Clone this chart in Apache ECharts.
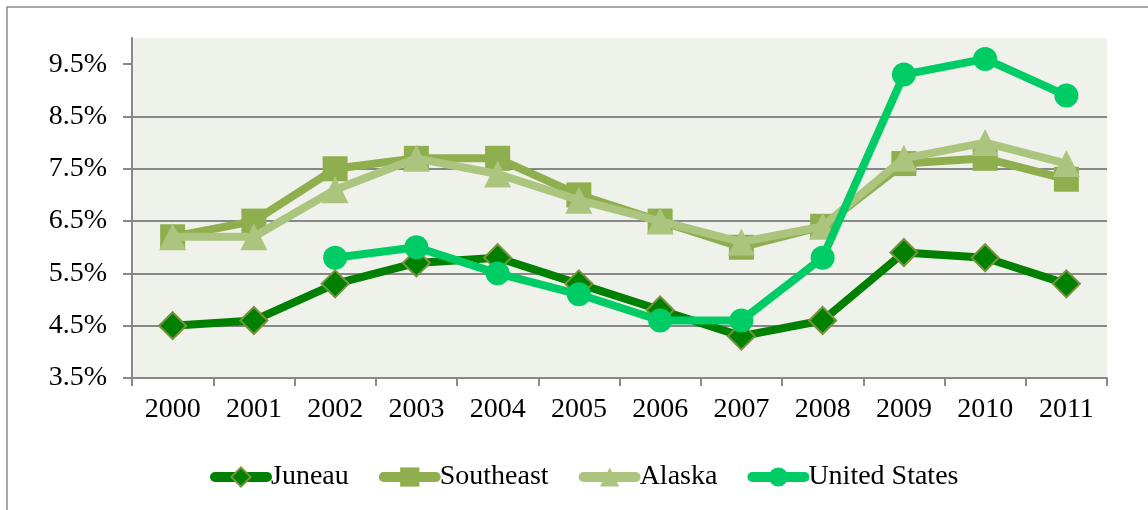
<!DOCTYPE html>
<html>
<head>
<meta charset="utf-8">
<script src="https://cdn.jsdelivr.net/npm/echarts@6/dist/echarts.min.js"></script>
<style>
  html, body { margin: 0; padding: 0; background: #fff; }
  #chart { width: 1148px; height: 510px; }
</style>
</head>
<body>
<div id="chart"></div>
<script>
// data
var years = ['2000','2001','2002','2003','2004','2005','2006','2007','2008','2009','2010','2011'];
var juneau = [4.5, 4.6, 5.3, 5.7, 5.8, 5.3, 4.8, 4.3, 4.6, 5.9, 5.8, 5.3];
var southeast = [6.2, 6.5, 7.5, 7.7, 7.7, 7.0, 6.5, 6.0, 6.4, 7.6, 7.7, 7.3];
var alaska = [6.2, 6.2, 7.1, 7.7, 7.4, 6.9, 6.5, 6.1, 6.4, 7.7, 8.0, 7.6];
var unitedStates = [null, null, 5.8, 6.0, 5.5, 5.1, 4.6, 4.6, 5.8, 9.3, 9.6, 8.9];
var yTicks = [3.5, 4.5, 5.5, 6.5, 7.5, 8.5, 9.5];

var font = '"Liberation Serif", serif';

var chart = echarts.init(document.getElementById('chart'));
var option = {
    animation: false,
    backgroundColor: '#fff',
    textStyle: { fontFamily: font },
    graphic: [{
        type: 'rect',
        shape: { x: 7, y: 7, width: 1170, height: 530 },
        style: { fill: 'none', stroke: '#8c8c8c', lineWidth: 1.5 },
        silent: true
    }],
    grid: {
        left: 132, right: 41, top: 38, bottom: 132,
        show: true,
        backgroundColor: '#eff2ea',
        borderWidth: 0
    },
    legend: {
        top: 458,
        left: 205,
        itemWidth: 52,
        itemHeight: 24,
        itemGap: 30,
        lineStyle: { width: 10, cap: 'round' },
        textStyle: { fontFamily: font, fontSize: 28, color: '#000', padding: [0, 0, 0, -1] },
        data: ['Juneau', 'Southeast', 'Alaska', 'United States']
    },
    xAxis: {
        type: 'category',
        data: years,
        boundaryGap: true,
        axisLine: { lineStyle: { color: '#888', width: 2 } },
        axisTick: { show: true, length: 8, lineStyle: { color: '#888', width: 2 } },
        axisLabel: { color: '#000', fontSize: 28, fontFamily: font, margin: 18 },
        splitLine: { show: false }
    },
    yAxis: {
        type: 'value',
        min: 3.5,
        max: 10,
        interval: 1,
        axisLine: { show: true, lineStyle: { color: '#888', width: 2 } },
        axisTick: { show: true, length: 9, customValues: yTicks, lineStyle: { color: '#888', width: 2 } },
        axisLabel: {
            color: '#000', fontSize: 28, fontFamily: font, margin: 25,
            customValues: yTicks,
            formatter: function (v) { return v.toFixed(1) + '%'; }
        },
        splitLine: { show: true, showMinLine: false, showMaxLine: false, lineStyle: { color: '#888', width: 2 } }
    },
    series: [
        {
            name: 'Juneau',
            type: 'line',
            data: juneau,
            symbol: 'diamond',
            symbolSize: 27,
            lineStyle: { color: '#008000', width: 8 },
            itemStyle: { color: '#008000', borderColor: '#77933c', borderWidth: 2 },
            z: 2
        },
        {
            name: 'Southeast',
            type: 'line',
            data: southeast,
            symbol: 'rect',
            symbolSize: 25,
            lineStyle: { color: '#8fae4e', width: 8 },
            itemStyle: { color: '#8fae4e', borderWidth: 0 },
            z: 3
        },
        {
            name: 'Alaska',
            type: 'line',
            data: alaska,
            symbol: 'triangle',
            symbolSize: 27,
            lineStyle: { color: '#abc57e', width: 8 },
            itemStyle: { color: '#abc57e', borderWidth: 0 },
            z: 4
        },
        {
            name: 'United States',
            type: 'line',
            data: unitedStates,
            symbol: 'circle',
            symbolSize: 24,
            lineStyle: { color: '#00cc66', width: 8 },
            itemStyle: { color: '#00cc66', borderWidth: 0 },
            z: 5
        }
    ]
};
chart.setOption(option);
</script>
</body>
</html>
